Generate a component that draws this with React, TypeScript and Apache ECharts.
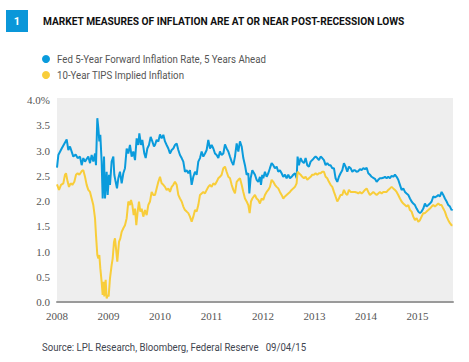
import React, { useEffect, useRef } from "react";
import * as echarts from "echarts";

// Time in decimal years, values in percent
const fedYears = [
  2008.0, 2008.026, 2008.091, 2008.188, 2008.22, 2008.252, 2008.317, 2008.362, 2008.401, 2008.447,
  2008.479, 2008.511, 2008.544, 2008.608, 2008.641, 2008.673, 2008.705, 2008.738, 2008.757, 2008.783,
  2008.803, 2008.822, 2008.841, 2008.867, 2008.887, 2008.913, 2008.932, 2008.964, 2008.984, 2009.01,
  2009.029, 2009.061, 2009.094, 2009.113, 2009.139, 2009.165, 2009.191, 2009.223, 2009.256, 2009.288,
  2009.32, 2009.353, 2009.385, 2009.417, 2009.45, 2009.482, 2009.515, 2009.547, 2009.579, 2009.599,
  2009.631, 2009.657, 2009.696, 2009.722, 2009.754, 2009.786, 2009.819, 2009.851, 2009.883,
  2009.903, 2009.935, 2009.968, 2010.0, 2010.032, 2010.065, 2010.097, 2010.129, 2010.162, 2010.194,
  2010.227, 2010.259, 2010.291, 2010.324, 2010.356, 2010.388, 2010.421, 2010.453, 2010.485, 2010.518,
  2010.55, 2010.582, 2010.615, 2010.647, 2010.68, 2010.712, 2010.744, 2010.777, 2010.809, 2010.841,
  2010.874, 2010.906, 2010.938, 2010.971, 2011.003, 2011.036, 2011.068, 2011.1, 2011.133, 2011.165,
  2011.197, 2011.23, 2011.262, 2011.294, 2011.327, 2011.359, 2011.392, 2011.424, 2011.456, 2011.489,
  2011.521, 2011.553, 2011.586, 2011.618, 2011.65, 2011.683, 2011.715, 2011.735, 2011.76, 2011.793,
  2011.844, 2011.876, 2011.909, 2011.941, 2011.961, 2011.986, 2012.006, 2012.038, 2012.071, 2012.103,
  2012.135, 2012.168, 2012.2, 2012.232, 2012.265, 2012.297, 2012.329, 2012.362, 2012.394, 2012.427,
  2012.459, 2012.491, 2012.524, 2012.556, 2012.588, 2012.621, 2012.653, 2012.672, 2012.698, 2012.731,
  2012.763, 2012.795, 2012.828, 2012.86, 2012.892, 2012.925, 2012.957, 2012.99, 2013.022, 2013.054,
  2013.087, 2013.119, 2013.151, 2013.184, 2013.216, 2013.248, 2013.281, 2013.313, 2013.346, 2013.378,
  2013.41, 2013.443, 2013.475, 2013.507, 2013.54, 2013.572, 2013.604, 2013.637, 2013.669, 2013.702,
  2013.734, 2013.766,
  2013.786, 2013.818, 2013.851, 2013.883, 2013.915, 2013.948, 2013.98, 2014.013, 2014.045, 2014.077,
  2014.11, 2014.142, 2014.174, 2014.207, 2014.239, 2014.271, 2014.304, 2014.336, 2014.369, 2014.401,
  2014.433, 2014.466, 2014.498, 2014.53, 2014.563, 2014.595, 2014.627, 2014.66, 2014.692, 2014.725,
  2014.757, 2014.789, 2014.822, 2014.854, 2014.886, 2014.919, 2014.951, 2014.983, 2015.016, 2015.048,
  2015.08, 2015.113, 2015.145, 2015.177, 2015.21, 2015.242, 2015.275, 2015.307, 2015.339, 2015.372,
  2015.404, 2015.436, 2015.469, 2015.501, 2015.533, 2015.566, 2015.598, 2015.631, 2015.663, 2015.68,
];
const fedValues = [
  2.66, 2.91, 3.04, 3.22, 3.01, 3.08, 2.88, 2.92, 2.85, 2.88,
  2.71, 2.85, 2.78, 2.88, 2.75, 2.91, 2.78, 2.94, 2.71, 3.64,
  3.44, 3.18, 3.31, 2.78, 2.05, 2.88, 2.05, 2.58, 2.12, 2.52,
  2.32, 2.78, 2.88, 2.52, 2.38, 2.25, 2.45, 2.58, 2.35, 2.55,
  2.65, 3.04, 2.94, 3.11, 2.88, 2.98, 2.81, 3.24, 3.11, 3.34,
  3.11, 3.21, 2.94, 2.85, 3.04, 3.11, 3.27, 3.18, 3.08,
  3.11, 3.21, 3.18, 3.32, 3.24, 3.31, 3.18, 3.11, 3.04, 2.94,
  3.01, 3.04, 3.11, 3.14, 3.01, 2.91, 2.85, 2.78, 2.58, 2.61,
  2.55, 2.61, 2.32, 2.48, 2.58, 2.52, 2.78, 2.85, 2.98, 2.88,
  2.94, 3.01, 3.21, 3.04, 3.11, 3.04, 2.94, 2.91, 2.85, 2.98,
  2.91, 2.94, 3.12, 3.04, 2.98, 2.88, 2.78, 2.71, 2.88, 3.14,
  2.98, 3.18, 3.08, 2.85, 2.71, 2.52, 2.55, 2.15, 2.45, 2.61,
  2.52, 2.42, 2.38, 2.48, 2.32, 2.52, 2.45, 2.58, 2.48, 2.55,
  2.65, 2.75, 2.71, 2.65, 2.68, 2.58, 2.61, 2.55, 2.48, 2.52,
  2.45, 2.52, 2.45, 2.48, 2.52, 2.55, 2.45, 2.88, 2.71, 2.85,
  2.78, 2.75, 2.85, 2.71, 2.68, 2.78, 2.81, 2.85, 2.88, 2.85,
  2.81, 2.88, 2.85, 2.81, 2.71, 2.75, 2.71, 2.71, 2.65, 2.65,
  2.45, 2.38, 2.48, 2.55, 2.61, 2.75, 2.68, 2.58, 2.68, 2.65,
  2.58, 2.61,
  2.61, 2.58, 2.59, 2.63, 2.61, 2.65, 2.63, 2.66, 2.55, 2.52,
  2.48, 2.46, 2.44, 2.38, 2.42, 2.45, 2.45, 2.46, 2.48, 2.45,
  2.48, 2.45, 2.5, 2.48, 2.52, 2.48, 2.42, 2.32, 2.22, 2.25,
  2.18, 2.15, 2.12, 2.05, 1.99, 1.95, 1.92, 1.85, 1.79, 1.76,
  1.79, 1.85, 1.95, 1.89, 1.92, 1.95, 1.99, 2.09, 2.07, 2.09,
  2.12, 2.09, 2.18, 2.12, 2.05, 1.99, 1.92, 1.89, 1.82, 1.84,
];

const tipsYears = [
  2008.0, 2008.039, 2008.078, 2008.123, 2008.155, 2008.175, 2008.207, 2008.233, 2008.265, 2008.298,
  2008.337, 2008.369, 2008.401, 2008.434, 2008.479, 2008.511, 2008.544, 2008.576, 2008.608, 2008.641,
  2008.673, 2008.705, 2008.738, 2008.757, 2008.783, 2008.803, 2008.822, 2008.841, 2008.867, 2008.887,
  2008.906, 2008.919, 2008.945, 2008.964, 2008.984, 2009.003, 2009.029, 2009.061, 2009.081, 2009.107,
  2009.126, 2009.146, 2009.171, 2009.204, 2009.23, 2009.256, 2009.288, 2009.32, 2009.353, 2009.385,
  2009.417, 2009.437, 2009.463, 2009.489, 2009.515, 2009.54, 2009.566, 2009.592, 2009.618, 2009.644,
  2009.676, 2009.709, 2009.741, 2009.773, 2009.806, 2009.838, 2009.87,
  2009.903, 2009.935, 2009.968, 2010.0, 2010.032, 2010.065, 2010.097, 2010.129, 2010.162, 2010.194,
  2010.227, 2010.259, 2010.291, 2010.324, 2010.356, 2010.388, 2010.421, 2010.453, 2010.485, 2010.518,
  2010.55, 2010.582, 2010.615, 2010.647, 2010.68, 2010.712, 2010.744, 2010.777, 2010.809, 2010.841,
  2010.874, 2010.906, 2010.938, 2010.971, 2011.003, 2011.036, 2011.068, 2011.1, 2011.133, 2011.165,
  2011.197, 2011.23, 2011.262, 2011.294, 2011.327, 2011.359, 2011.392, 2011.424, 2011.456, 2011.489,
  2011.521, 2011.553, 2011.586, 2011.618, 2011.65, 2011.683, 2011.715, 2011.741, 2011.767, 2011.793,
  2011.844, 2011.876, 2011.909, 2011.941, 2011.973, 2012.006, 2012.038, 2012.071, 2012.103, 2012.135,
  2012.168, 2012.2, 2012.232, 2012.265, 2012.297, 2012.329, 2012.362, 2012.394, 2012.427, 2012.459,
  2012.491, 2012.524, 2012.556, 2012.588, 2012.621, 2012.653, 2012.672, 2012.698, 2012.731, 2012.763,
  2012.795, 2012.828, 2012.86, 2012.892, 2012.925, 2012.957, 2012.99, 2013.022, 2013.054, 2013.087,
  2013.119, 2013.151, 2013.184, 2013.216, 2013.248, 2013.281, 2013.313, 2013.346, 2013.378, 2013.41,
  2013.443, 2013.475, 2013.507, 2013.54, 2013.572, 2013.604, 2013.637, 2013.669, 2013.702, 2013.734,
  2013.766,
  2013.786, 2013.818, 2013.851, 2013.883, 2013.915, 2013.948, 2013.98, 2014.013, 2014.045, 2014.077,
  2014.11, 2014.142, 2014.174, 2014.207, 2014.239, 2014.271, 2014.304, 2014.336, 2014.369, 2014.401,
  2014.433, 2014.466, 2014.498, 2014.53, 2014.563, 2014.595, 2014.627, 2014.66, 2014.692, 2014.725,
  2014.757, 2014.789, 2014.822, 2014.854, 2014.886, 2014.919, 2014.951, 2014.983, 2015.016, 2015.048,
  2015.08, 2015.113, 2015.145, 2015.177, 2015.21, 2015.242, 2015.275, 2015.307, 2015.339, 2015.372,
  2015.404, 2015.436, 2015.469, 2015.501, 2015.533, 2015.566, 2015.598, 2015.631, 2015.663, 2015.68,
];
const tipsValues = [
  2.33, 2.22, 2.32, 2.35, 2.52, 2.55, 2.38, 2.28, 2.35, 2.32,
  2.38, 2.52, 2.55, 2.52, 2.59, 2.61, 2.48, 2.32, 2.22, 2.18,
  2.05, 1.92, 1.66, 1.33, 0.93, 0.86, 0.93, 0.67, 0.4, 0.14,
  0.4, 0.11, 0.44, 0.07, 0.14, 0.11, 0.47, 0.73, 0.86, 1.19,
  1.26, 1.06, 0.8, 1.19, 1.26, 1.39, 1.46, 1.52, 1.66, 1.99,
  1.92, 2.02, 1.92, 1.72, 1.85, 1.52, 1.79, 1.99, 1.79, 1.85,
  1.69, 1.82, 1.72, 1.92, 1.99, 2.18, 2.12,
  2.12, 2.25, 2.38, 2.48, 2.35, 2.32, 2.28, 2.22, 2.25, 2.18,
  2.28, 2.32, 2.38, 2.32, 2.12, 2.05, 1.99, 1.89, 1.82, 1.79,
  1.76, 1.69, 1.59, 1.69, 1.82, 1.79, 1.92, 2.12, 2.15, 2.18,
  2.15, 2.22, 2.28, 2.32, 2.28, 2.35, 2.32, 2.38, 2.45, 2.48,
  2.52, 2.65, 2.68, 2.58, 2.48, 2.45, 2.32, 2.22, 2.15, 2.38,
  2.42, 2.45, 2.32, 2.18, 2.05, 1.99, 1.92, 1.76, 1.99, 2.05,
  2.12, 2.05, 2.02, 1.95, 2.05, 2.02, 2.12, 2.18, 2.22, 2.28,
  2.42, 2.38, 2.32, 2.28, 2.25, 2.18, 2.12, 2.05, 2.09, 2.12,
  2.15, 2.18, 2.22, 2.25, 2.28, 2.35, 2.58, 2.55, 2.52, 2.48,
  2.45, 2.48, 2.42, 2.45, 2.48, 2.52, 2.52, 2.55, 2.52, 2.55,
  2.55, 2.58, 2.58, 2.48, 2.45, 2.38, 2.32, 2.28, 2.18, 2.09,
  1.99, 2.05, 2.12, 2.12, 2.22, 2.15, 2.12, 2.22, 2.18, 2.18,
  2.18,
  2.18, 2.17, 2.15, 2.18, 2.15, 2.18, 2.22, 2.25, 2.18, 2.12,
  2.15, 2.18, 2.15, 2.12, 2.15, 2.18, 2.15, 2.18, 2.18, 2.18,
  2.22, 2.25, 2.28, 2.25, 2.22, 2.18, 2.12, 2.05, 1.99, 1.95,
  1.92, 1.89, 1.92, 1.82, 1.79, 1.69, 1.62, 1.66, 1.59, 1.62,
  1.69, 1.76, 1.76, 1.79, 1.82, 1.85, 1.89, 1.92, 1.89, 1.92,
  1.95, 1.92, 1.92, 1.85, 1.79, 1.69, 1.62, 1.56, 1.52, 1.52,
];

const seriesNames = [
  "Fed 5-Year Forward Inflation Rate, 5 Years Ahead",
  "10-Year TIPS Implied Inflation",
];
const yearTicks = [2008, 2009, 2010, 2011, 2012, 2013, 2014, 2015];
const titleText = "MARKET MEASURES OF INFLATION ARE AT OR NEAR POST-RECESSION LOWS";
const sourceText = "Source: LPL Research, Bloomberg, Federal Reserve   09/04/15";

const BLUE = "#0a9bdc";
const YELLOW = "#f8cd3a";
const SANS = "Roboto, 'Liberation Sans', sans-serif";
const SERIF = "'Liberation Serif', 'DejaVu Serif', serif";

export default function App() {
  const ref = useRef<HTMLDivElement>(null);
  useEffect(() => {
    if (!ref.current) return;
    const chart = echarts.init(ref.current, undefined, { renderer: "svg" });
    const fedData = fedYears.map((t, i) => [t, fedValues[i]]);
    const tipsData = tipsYears.map((t, i) => [t, tipsValues[i]]);
    const colors = [BLUE, YELLOW];
    const legendGraphics: any[] = [];
    seriesNames.forEach((name, i) => {
      legendGraphics.push({
        type: "circle",
        shape: { cx: 46, cy: 59 + i * 16, r: 4 },
        style: { fill: colors[i] },
      });
      legendGraphics.push({
        type: "text",
        x: 57,
        y: 59 + i * 16,
        scaleX: 0.88,
        style: { text: name, fill: "#555555", font: `11px ${SANS}`, verticalAlign: "middle" },
      });
    });
    chart.setOption({
      animation: false,
      backgroundColor: "#ffffff",
      grid: {
        left: 57,
        right: 16,
        top: 98,
        bottom: 60,
        show: true,
        backgroundColor: "#eeeeee",
        borderWidth: 0,
      },
      xAxis: {
        type: "value",
        min: 2008,
        max: 2015.69,
        interval: 1,
        axisLine: { show: true, lineStyle: { color: "#9a9a9a", width: 2 } },
        axisTick: { show: false },
        splitLine: { show: false },
        axisLabel: {
          margin: 8,
          fontFamily: SERIF,
          fontSize: 11,
          color: "#555555",
          showMaxLabel: false,
          formatter: (v: number) =>
            yearTicks.includes(Math.round(v)) && Math.abs(v - Math.round(v)) < 1e-6 ? String(Math.round(v)) : "",
        },
      },
      yAxis: {
        type: "value",
        min: 0,
        max: 4.04,
        interval: 0.5,
        axisLine: { show: false },
        axisTick: { show: false },
        splitLine: { show: false },
        axisLabel: {
          margin: 7,
          fontFamily: SERIF,
          fontSize: 11,
          color: "#555555",
          formatter: (v: number) => {
            if (Math.abs(v * 2 - Math.round(v * 2)) > 1e-6) return "";
            return v >= 3.999 ? v.toFixed(1) + "%" : v.toFixed(1);
          },
        },
      },
      series: [
        {
          name: seriesNames[0],
          type: "line",
          data: fedData,
          showSymbol: false,
          color: BLUE,
          lineStyle: { color: BLUE, width: 2 },
        },
        {
          name: seriesNames[1],
          type: "line",
          data: tipsData,
          showSymbol: false,
          color: YELLOW,
          lineStyle: { color: YELLOW, width: 2 },
        },
      ],
      graphic: [
        { type: "rect", shape: { x: 6, y: 10, width: 22, height: 22 }, style: { fill: "#0a97d9" } },
        {
          type: "text",
          x: 17,
          y: 21,
          style: { text: "1", fill: "#ffffff", font: `bold 11px ${SANS}`, align: "center", verticalAlign: "middle" },
        },
        {
          type: "text",
          x: 43,
          y: 21,
          scaleX: 0.885,
          style: { text: titleText, fill: "#111111", font: `bold 11.5px ${SANS}`, verticalAlign: "middle" },
        },
        ...legendGraphics,
        {
          type: "text",
          x: 42,
          y: 347,
          scaleX: 0.875,
          style: { text: sourceText, fill: "#3f4650", font: `11px ${SANS}`, verticalAlign: "middle" },
        },
      ],
    });
    return () => chart.dispose();
  }, []);
  return <div ref={ref} style={{ position: "fixed", left: 0, top: 0, width: 469, height: 362 }} />;
}
